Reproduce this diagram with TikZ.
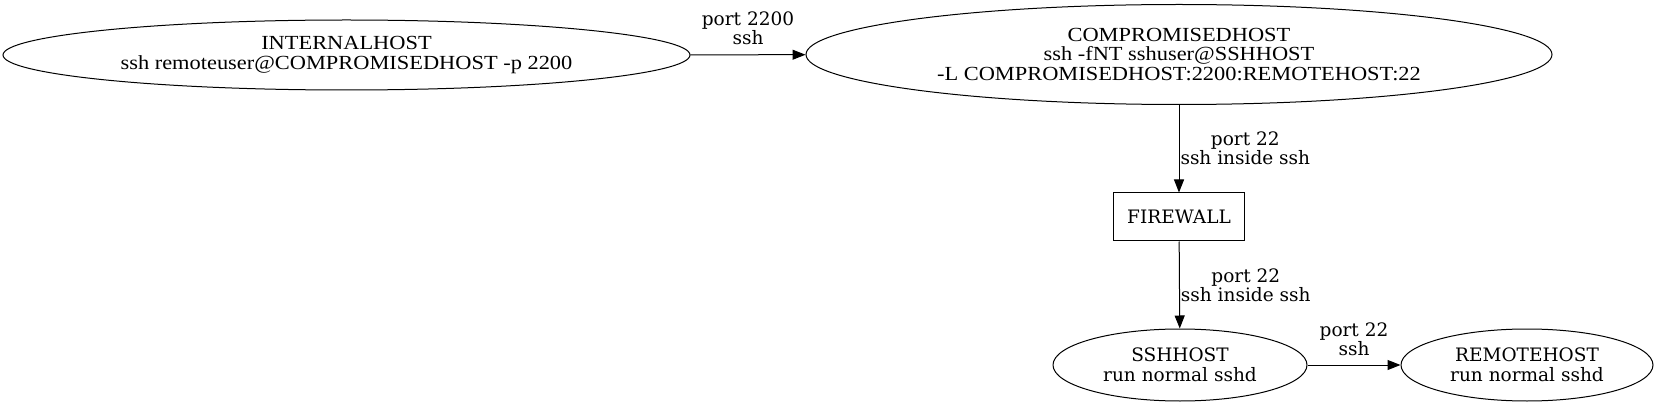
\documentclass[tikz,border=0pt]{standalone}
\usepackage{fontspec}
\setmainfont{DejaVu Serif}
\newfontfamily\hostfont[FakeStretch=1.12]{Liberation Serif}
\usetikzlibrary{shapes,arrows,arrows.meta,positioning}

\begin{document}
\begin{tikzpicture}[x=1pt,y=-1pt]
  \tikzstyle{host} = [ellipse, draw, line width=1pt, align=center, inner sep=0pt, font=\fontsize{18.5}{20}\selectfont]
  \tikzstyle{bighost} = [host, font=\hostfont\fontsize{20}{19.5}\selectfont]
  \tikzstyle{wall} = [rectangle, draw, line width=1pt, minimum width=131pt, minimum height=48pt, font=\fontsize{18.5}{20}\selectfont]
  \tikzstyle{line} = [draw, -{Triangle[length=13pt,width=10pt]}, line width=1pt]
  \tikzstyle{tag} = [align=center, inner xsep=1pt, font=\fontsize{18.5}{19}\selectfont]
  \tikzstyle{uptag} = [tag, above, inner ysep=9pt]

  \useasboundingbox (0,0) rectangle (1658,406);

  % Hosts
  \node[bighost, minimum width=687pt, minimum height=70pt] (internal) at (346.5,55)
    {INTERNALHOST\\ssh remoteuser@COMPROMISEDHOST -p 2200};
  \node[bighost, minimum width=746pt, minimum height=100pt] (compromised) at (1179,54.5)
    {COMPROMISEDHOST\\ssh -fNT sshuser@SSHHOST\\-L COMPROMISEDHOST:2200:REMOTEHOST:22};
  \node[wall] (firewall) at (1179,217) {FIREWALL};
  \node[host, minimum width=254pt, minimum height=72pt] (sshhost) at (1180,365)
    {SSHHOST\\run normal sshd};
  \node[host, minimum width=252pt, minimum height=72pt] (remote) at (1527,365)
    {REMOTEHOST\\run normal sshd};

  % Main flow
  \draw[line] (internal) -- node[uptag] {port 2200\\ssh} (compromised);
  \draw[line] (compromised) -- node[tag, right] {port 22\\ssh inside ssh} (firewall);
  \draw[line] (firewall) -- node[tag, right] {port 22\\ssh inside ssh} (sshhost);
  \draw[line] (sshhost) -- node[uptag] {port 22\\ssh} (remote);
\end{tikzpicture}
\end{document}
